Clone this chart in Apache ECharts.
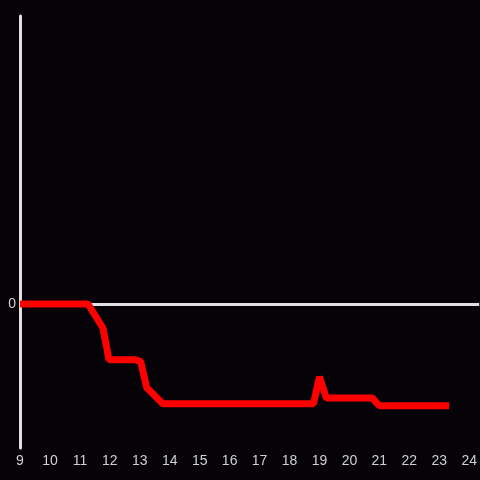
<!DOCTYPE html>
<html>
<head>
<meta charset="utf-8">
<script src="https://cdn.jsdelivr.net/npm/echarts@6/dist/echarts.min.js"></script>
<style>
  html, body { margin: 0; padding: 0; background: #050307; }
  #chart { width: 480px; height: 480px; }
</style>
</head>
<body>
<div id="chart"></div>
<script>
// x positions (hour) and values of the red line
const xValues = [9, 11.27, 11.77, 11.97, 12.83, 13.03, 13.23, 13.77, 18.8, 19.0, 19.23, 20.77, 21.0, 23.33];
const yValues = [0, 0, -25, -58, -58, -60, -87, -104, -104, -76, -98, -98, -106, -106];
const xTicks = [9, 10, 11, 12, 13, 14, 15, 16, 17, 18, 19, 20, 21, 22, 23, 24];

const lineData = xValues.map((x, i) => [x, yValues[i]]);

const myChart = echarts.init(document.getElementById('chart'));
const option = {
    backgroundColor: '#050307',
    animation: false,
    grid: { left: 20, right: 0, top: 16, bottom: 32 },
    xAxis: {
        type: 'value',
        min: 9,
        max: 24.333,
        interval: 1,
        axisLine: { show: false },
        axisTick: { show: false },
        splitLine: { show: false },
        axisLabel: {
            color: '#d0d0d0',
            fontSize: 14,
            margin: 6,
            showMaxLabel: false,
            formatter: v => xTicks.indexOf(v) >= 0 ? String(v) : ''
        }
    },
    yAxis: {
        type: 'value',
        min: -150,
        max: 300,
        interval: 150,
        axisLine: { show: true, onZero: false, lineStyle: { color: '#e0e0e0', width: 3 } },
        axisTick: { show: false },
        splitLine: { show: false },
        axisLabel: {
            color: '#d0d0d0',
            fontSize: 14,
            margin: 4,
            formatter: v => v === 0 ? '0' : ''
        }
    },
    series: [
        {
            // zero line, kept underneath the red line
            type: 'line',
            data: [],
            z: 1,
            markLine: {
                silent: true,
                symbol: 'none',
                label: { show: false },
                lineStyle: { color: '#e0e0e0', width: 3, type: 'solid' },
                data: [{ yAxis: 0 }]
            }
        },
        {
            type: 'line',
            data: lineData,
            z: 5,
            symbol: 'none',
            lineStyle: { color: '#ff0000', width: 7 }
        }
    ]
};
myChart.setOption(option);
</script>
</body>
</html>
